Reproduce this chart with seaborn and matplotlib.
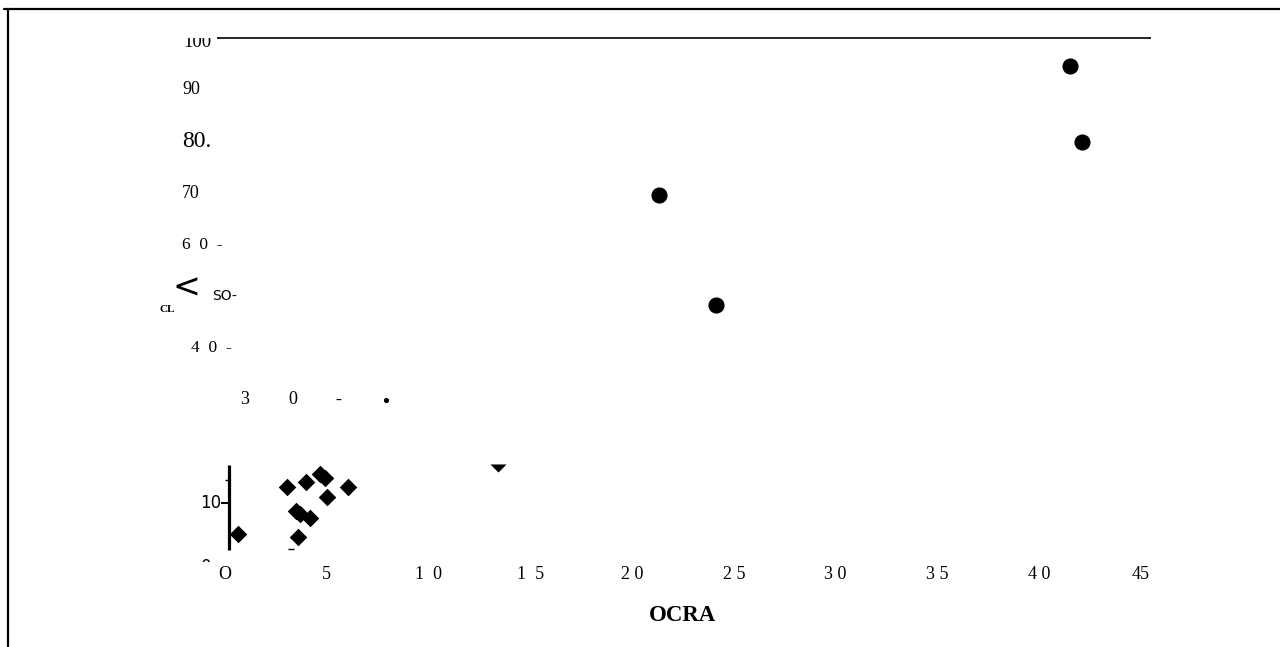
import pandas as pd
import seaborn as sns
import matplotlib.pyplot as plt
from matplotlib.lines import Line2D
from matplotlib.patches import Rectangle
from matplotlib.transforms import blended_transform_factory

# data
circle_x = [41.5, 42.1, 21.3, 24.1]
circle_y = [94.6, 79.9, 69.6, 48.4]
dot_x = [7.9]
dot_y = [30.0]
tri_x = [13.4]
tri_y = [16.8]
diamond_x = [0.65, 3.03, 3.96, 4.67, 4.91, 5.0, 6.06, 3.49, 3.68, 4.17, 3.6]
diamond_y = [4.0, 13.2, 14.2, 15.7, 14.9, 11.3, 13.1, 8.5, 7.9, 7.2, 3.5]

x_ticks = [0, 5, 10, 15, 20, 25, 30, 35, 40, 45]
x_tick_labels = ['O', '5', '1  0', '1  5', '2 0', '2 5', '3 0', '3 5', '4 0', '45']
y_ticks = [100, 90, 80, 70, 60, 50, 40]
y_tick_labels = ['100', '90', '80.', '70', '6  0  -', 'SO-', '4  0  -']

W, H = 1280, 647

def fx(px):
    return px / W

def fy(py):
    return 1 - py / H

sns.set_style('white')
plt.rcParams['text.color'] = 'black'
plt.rcParams['xtick.color'] = 'black'
plt.rcParams['axes.labelcolor'] = 'black'

fig = plt.figure(figsize=(12.8, 6.47), dpi=100)
ax = fig.add_axes([fx(225), fy(555), (1141 - 225) / W, (555 - 38) / H])
ax.set_xlim(0, 45)
ax.set_ylim(0, 100)
for s in ax.spines.values():
    s.set_visible(False)

# marks
sns.scatterplot(x=circle_x, y=circle_y, ax=ax, marker='o', s=135, color='black', linewidth=0, clip_on=False)
sns.scatterplot(x=dot_x, y=dot_y, ax=ax, marker='o', s=14, color='black', linewidth=0, clip_on=False)
tri_marker = [(-1, 0.5), (1, 0.5), (0, -0.5)]
sns.scatterplot(x=tri_x, y=tri_y, ax=ax, marker=tri_marker, s=135, color='black', linewidth=0, clip_on=False)
sns.scatterplot(x=diamond_x, y=diamond_y, ax=ax, marker='D', s=80, color='black', linewidth=0, clip_on=False)

# top rule at 100
ax.hlines(100, -0.4, 45.5, color='black', lw=1.2, clip_on=False)

# x ticks
ax.set_xticks(x_ticks, labels=x_tick_labels)
ax.tick_params(axis='x', length=0, pad=8, labelsize=13)
for lab in ax.get_xticklabels():
    lab.set_family('Liberation Serif')
ax.set_yticks([])
ax.set_xlabel('OCRA', family='Liberation Serif', fontweight='bold', fontsize=16.5, labelpad=16)

# y labels, scanned look
ytrans = blended_transform_factory(fig.transFigure, ax.transData)
y_label_x = [183, 182, 182, 182, 182, 212, 191]
y_label_size = [13.5, 13, 17, 13, 12.5, 10, 12.5]
y_label_family = ['Liberation Serif'] * 5 + ['DejaVu Sans', 'Liberation Serif']
for v, lab, px, fs, fam in zip(y_ticks, y_tick_labels, y_label_x, y_label_size, y_label_family):
    t = ax.text(fx(px), v, lab, transform=ytrans, ha='left', va='center',
                fontsize=fs, family=fam)
    if v == 100:
        # top of the 100 is cut off in the scan
        t.set_position((fx(px), 99.2))
        t.set_clip_on(True)
        t.set_clip_path(Rectangle((0, 0), 1, fy(38), transform=fig.transFigure))

# spread-out 30 label
for ch, px in zip(['3', '0', '-'], [245, 293, 338]):
    ax.text(fx(px), 30, ch, transform=ytrans, ha='center', va='center',
            fontsize=13, family='Liberation Serif')

# rotated axis title, as scanned
fig.text(fx(186), fy(288), '<', fontsize=24, ha='center', va='center', family='DejaVu Sans')
fig.text(fx(167), fy(309), 'CL', fontsize=8, ha='center', va='center',
         family='Liberation Serif', fontweight='bold')

# inset bottom panel axis
ax.vlines(0.2, 1.0, 17.4, color='black', lw=2.3, clip_on=False)
ax.hlines(10, -0.2, 0.2, color='black', lw=1.5, clip_on=False)
ax.text(fx(211), 10, '10', transform=ytrans, ha='center', va='center',
        fontsize=12, family='DejaVu Sans')
ax.hlines(14.5, 0.0, 0.2, color='black', lw=1.0, clip_on=False)
ax.plot([3.25], [1.1], marker='_', color='black', ms=4, clip_on=False)
t0 = fig.text(fx(206), fy(567), '0', fontsize=12, ha='center', va='center', family='DejaVu Sans')
t0.set_clip_on(True)
t0.set_clip_path(Rectangle((0, fy(562)), 1, 1, transform=fig.transFigure))

# scan frame
fig.add_artist(Line2D([fx(4), fx(1280)], [fy(9), fy(9)], color='black', lw=1.6))
fig.add_artist(Line2D([fx(8), fx(8)], [fy(9), fy(647)], color='black', lw=1.6))

fig.savefig('out.png', dpi=100)
